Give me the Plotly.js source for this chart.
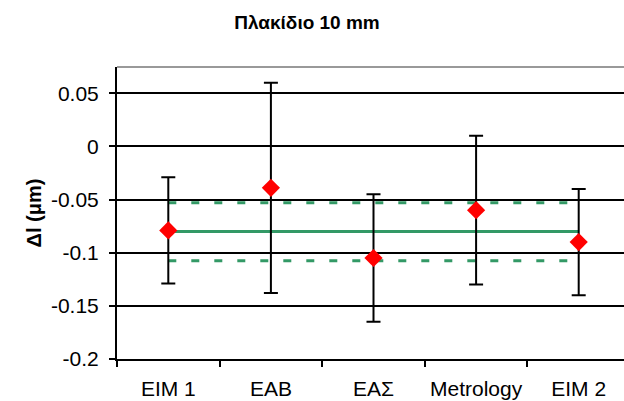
<!DOCTYPE html>
<html>
<head>
<meta charset="utf-8">
<script src="https://cdn.plot.ly/plotly-3.0.1.min.js"></script>
<style>
html, body { margin: 0; padding: 0; overflow: hidden; background: #fff; }
#chart { width: 640px; height: 401px; }
</style>
</head>
<body>
<div id="chart"></div>
<script>
// Data
const categories = ["EIM 1", "EAB", "EAΣ", "Metrology", "EIM 2"];
const values = [-0.079, -0.039, -0.105, -0.060, -0.090];
const uncertainties = [0.050, 0.099, 0.060, 0.070, 0.050];
const refValue = [-0.080, -0.080, -0.080, -0.080, -0.080];
const refUpper = [-0.053, -0.053, -0.053, -0.053, -0.053];
const refLower = [-0.1075, -0.1075, -0.1075, -0.1075, -0.1075];
const yTickVals = [-0.2, -0.15, -0.1, -0.05, 0, 0.05];
const yTickText = ["-0.2", "-0.15", "-0.1", "-0.05", "0", "0.05"];

const green = "#339966";
const font = "Liberation Sans, Arial, sans-serif";

const traces = [
  { x: categories, y: refValue, type: "scatter", mode: "lines",
    line: { color: green, width: 3 }, hoverinfo: "skip", showlegend: false },
  { x: categories, y: refUpper, type: "scatter", mode: "lines",
    line: { color: green, width: 3, dash: "8px,15px" }, hoverinfo: "skip", showlegend: false },
  { x: categories, y: refLower, type: "scatter", mode: "lines",
    line: { color: green, width: 3, dash: "8px,15px" }, hoverinfo: "skip", showlegend: false },
  { x: categories, y: values, type: "scatter", mode: "markers",
    marker: { symbol: "diamond", size: 14, color: "#ff0000" },
    error_y: { type: "data", array: uncertainties, visible: true,
               color: "#000000", thickness: 2, width: 7 },
    showlegend: false }
];

const layout = {
  width: 640, height: 401, autosize: false,
  margin: { l: 117, r: 10, t: 67, b: 42 },
  paper_bgcolor: "#ffffff", plot_bgcolor: "#ffffff",
  font: { family: font, size: 21, color: "#000000" },
  title: { text: "<b>Πλακίδιο 10 mm</b>", font: { family: font, size: 19, color: "#000" },
           xref: "container", x: 307 / 640, xanchor: "center",
           yref: "container", y: 1 - 22 / 401, yanchor: "middle" },
  xaxis: {
    type: "category", range: [-0.5, 4.5], fixedrange: true,
    showgrid: false, zeroline: false,
    showline: true, linecolor: "#000", linewidth: 2,
    ticks: "outside", tickson: "boundaries", ticklen: 6, tickwidth: 2, tickcolor: "#000",
    tickangle: 0,
    tickfont: { family: font, size: 21 }, ticklabelstandoff: 10
  },
  yaxis: {
    range: [-0.2, 0.0747], fixedrange: true,
    tickvals: yTickVals, ticktext: yTickText,
    showgrid: true, gridcolor: "#000", gridwidth: 2, zeroline: false,
    showline: true, linecolor: "#000", linewidth: 2,
    ticks: "outside", ticklen: 6, tickwidth: 2, tickcolor: "#000",
    tickfont: { family: font, size: 21 }, ticklabelstandoff: 6,
    title: { text: "<b>Δl (μm)</b>", font: { family: font, size: 20 }, standoff: 4 }
  },
  shapes: [
    { type: "line", xref: "paper", yref: "paper", x0: 0, x1: 1, y0: 1, y1: 1,
      line: { color: "#999999", width: 2 } }
  ]
};

Plotly.newPlot("chart", traces, layout, { displayModeBar: false, staticPlot: true });
</script>
</body>
</html>
